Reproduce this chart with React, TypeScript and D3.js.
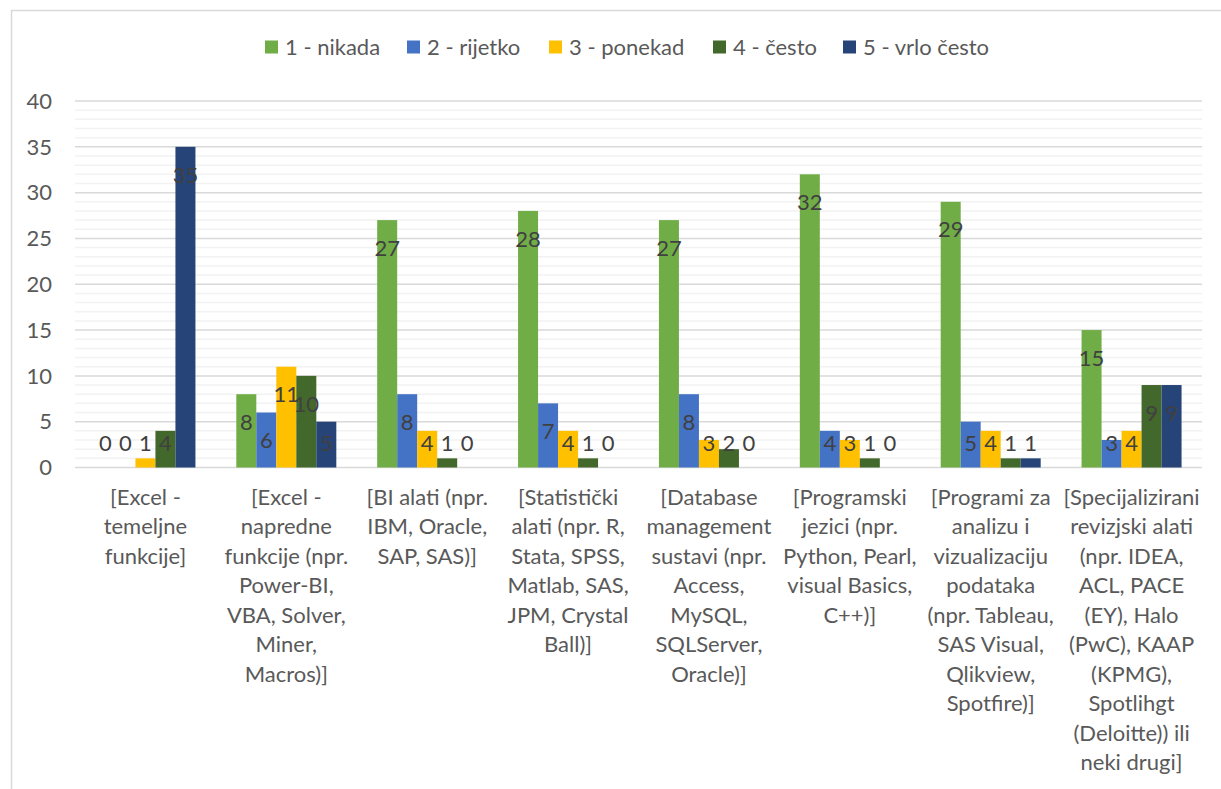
import * as d3 from "d3";

const W = 1221;
const H = 789;

// category labels, wrapped as in the source
const categories: string[][] = [
  ["[Excel -", "temeljne", "funkcije]"],
  ["[Excel -", "napredne", "funkcije (npr.", "Power-BI,", "VBA, Solver,", "Miner,", "Macros)]"],
  ["[BI alati (npr.", "IBM, Oracle,", "SAP, SAS)]"],
  ["[Statistički", "alati (npr. R,", "Stata, SPSS,", "Matlab, SAS,", "JPM, Crystal", "Ball)]"],
  ["[Database", "management", "sustavi (npr.", "Access,", "MySQL,", "SQLServer,", "Oracle)]"],
  ["[Programski", "jezici (npr.", "Python, Pearl,", "visual Basics,", "C++)]"],
  ["[Programi za", "analizu i", "vizualizaciju", "podataka", "(npr. Tableau,", "SAS Visual,", "Qlikview,", "Spotfire)]"],
  ["[Specijalizirani", "revizjski alati", "(npr. IDEA,", "ACL, PACE", "(EY), Halo", "(PwC), KAAP", "(KPMG),", "Spotlihgt", "(Deloitte)) ili", "neki drugi]"],
];

const seriesNames = ["1 - nikada", "2 - rijetko", "3 - ponekad", "4 - često", "5 - vrlo često"];
const seriesColors = ["#70AD47", "#4472C4", "#FFC000", "#43682B", "#264478"];

const nikada = [0, 8, 27, 28, 27, 32, 29, 15];
const rijetko = [0, 6, 8, 7, 8, 4, 5, 3];
const ponekad = [1, 11, 4, 4, 3, 3, 4, 4];
const cesto = [4, 10, 1, 1, 2, 1, 1, 9];
const vrloCesto = [35, 5, 0, 0, 0, 0, 1, 9];

const yTicks = [0, 5, 10, 15, 20, 25, 30, 35, 40];

const FONT = "Lato, 'Open Sans', sans-serif";

export default function App() {
  const series = [nikada, rijetko, ponekad, cesto, vrloCesto];

  const left = 75;
  const right = 1202;
  const top = 101;
  const bottom = 467.5;

  const x = d3
    .scaleBand<number>()
    .domain(d3.range(categories.length))
    .range([left, right]);
  const groupW = 100;
  const inner = d3
    .scaleBand<number>()
    .domain(d3.range(series.length))
    .range([(x.bandwidth() - groupW) / 2, (x.bandwidth() + groupW) / 2]);
  const y = d3.scaleLinear().domain([0, 40]).range([bottom, top]);

  const minor = d3.range(0, 41, 1).filter((v) => v % 5 !== 0);

  // legend layout
  const legendX = [265, 407, 549, 713, 843];

  return (
    <svg
      width={W}
      height={H}
      style={{ position: "absolute", left: 0, top: 0, background: "#fff" }}
      fontFamily={FONT}
    >
      {/* chart border (cropped at right/bottom) */}
      <path d={`M11.5,${H} V10.5 H${W}`} fill="none" stroke="#d9d9d9" strokeWidth={1.5} />

      {/* minor gridlines */}
      {minor.map((v) => (
        <line key={"m" + v} x1={left} x2={right} y1={y(v)} y2={y(v)} stroke="#f2f2f2" strokeWidth={1.5} />
      ))}
      {/* major gridlines */}
      {yTicks.map((v) => (
        <line key={"g" + v} x1={left} x2={right} y1={y(v)} y2={y(v)} stroke="#d9d9d9" strokeWidth={1.5} />
      ))}

      {/* y tick labels */}
      {yTicks.map((v) => (
        <text key={"t" + v} x={52} y={y(v)} dy="0.35em" textAnchor="end" fontSize={22} fill="#595959">
          {v}
        </text>
      ))}

      {/* bars */}
      {series.map((vals, si) =>
        vals.map((v, ci) => (
          <rect
            key={`b${si}-${ci}`}
            x={(x(ci) ?? 0) + (inner(si) ?? 0)}
            y={y(v)}
            width={inner.bandwidth()}
            height={bottom - y(v)}
            fill={seriesColors[si]}
          />
        ))
      )}

      {/* data labels */}
      {series.map((vals, si) =>
        vals.map((v, ci) => (
          <text
            key={`l${si}-${ci}`}
            x={(x(ci) ?? 0) + (inner(si) ?? 0) + inner.bandwidth() / 2}
            y={Math.min(y(v) + 28, 443)}
            dy="0.35em"
            textAnchor="middle"
            fontSize={22}
            fill="#404040"
          >
            {v}
          </text>
        ))
      )}

      {/* category labels */}
      {categories.map((lines, ci) => (
        <text
          key={"c" + ci}
          x={(x(ci) ?? 0) + x.bandwidth() / 2}
          y={497}
          textAnchor="middle"
          fontSize={22}
          fill="#595959"
        >
          {lines.map((ln, li) => (
            <tspan key={li} x={(x(ci) ?? 0) + x.bandwidth() / 2} y={497 + li * 29.5} dy="0.35em">
              {ln}
            </tspan>
          ))}
        </text>
      ))}

      {/* legend */}
      {seriesNames.map((name, i) => (
        <g key={"lg" + i} transform={`translate(${legendX[i]},47)`}>
          <rect x={0} y={-6.5} width={13} height={13} fill={seriesColors[i]} />
          <text x={20} y={0} dy="0.35em" fontSize={22} fill="#595959">
            {name}
          </text>
        </g>
      ))}
    </svg>
  );
}
